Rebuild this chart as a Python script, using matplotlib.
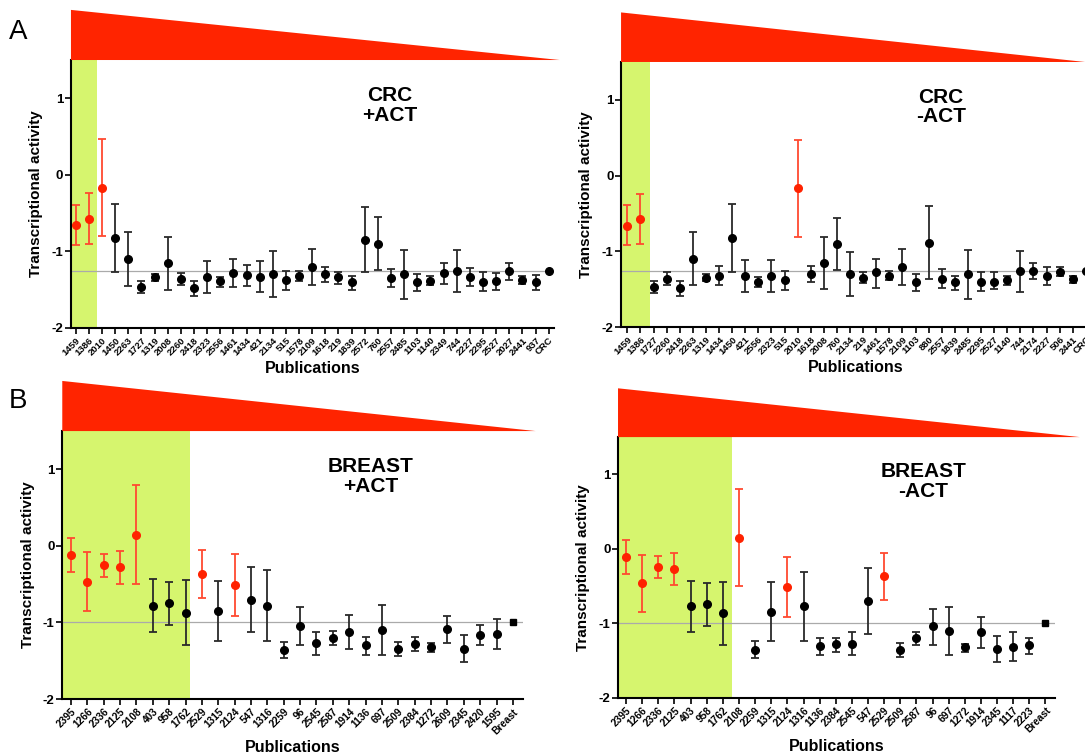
import numpy as np
import matplotlib
matplotlib.use("Agg")
import matplotlib.pyplot as plt
from matplotlib.patches import Polygon

plt.rcParams['font.family'] = ['Liberation Sans', 'DejaVu Sans']

# ---- CRC +ACT ----
crc_pos_labels = ['1459', '1386', '2010', '1450', '2263', '1727', '1319', '2008', '2260', '2418',
                  '2323', '2556', '1461', '1434', '421', '2134', '515', '1578', '2109', '1618',
                  '219', '1839', '2572', '760', '2557', '2485', '1103', '1140', '2349', '744',
                  '2227', '2295', '2527', '2027', '2441', '937', 'CRC']
crc_pos_mean = [-0.66, -0.58, -0.17, -0.83, -1.10, -1.47, -1.34, -1.15, -1.36, -1.48,
                -1.33, -1.39, -1.28, -1.31, -1.33, -1.30, -1.37, -1.32, -1.20, -1.30,
                -1.34, -1.40, -0.85, -0.90, -1.35, -1.30, -1.40, -1.38, -1.28, -1.26,
                -1.33, -1.40, -1.39, -1.26, -1.37, -1.40, -1.25]
crc_pos_high = [-0.39, -0.24, 0.47, -0.38, -0.75, -1.38, -1.30, -0.81, -1.28, -1.39,
                -1.12, -1.34, -1.10, -1.18, -1.12, -1.00, -1.25, -1.25, -0.97, -1.20,
                -1.27, -1.32, -0.42, -0.55, -1.23, -0.98, -1.29, -1.32, -1.15, -0.98,
                -1.21, -1.27, -1.28, -1.15, -1.32, -1.31, -1.25]
crc_pos_low = [-0.92, -0.90, -0.80, -1.27, -1.45, -1.54, -1.39, -1.50, -1.44, -1.58,
               -1.54, -1.46, -1.47, -1.45, -1.53, -1.60, -1.50, -1.38, -1.44, -1.40,
               -1.42, -1.50, -1.27, -1.24, -1.47, -1.62, -1.52, -1.44, -1.43, -1.53,
               -1.45, -1.52, -1.50, -1.37, -1.42, -1.50, -1.25]
crc_pos_red = ['1459', '1386', '2010']

# ---- CRC -ACT ----
crc_neg_labels = ['1459', '1386', '1727', '2260', '2418', '2263', '1319', '1434', '1450', '421',
                  '2556', '2323', '515', '2010', '1618', '2008', '760', '2134', '219', '1461',
                  '1578', '2109', '1103', '880', '2557', '1839', '2485', '2295', '2527', '1140',
                  '744', '2174', '2227', '506', '2441', 'CRC']
crc_neg_mean = [-0.66, -0.58, -1.47, -1.37, -1.49, -1.10, -1.35, -1.32, -0.83, -1.33,
                -1.40, -1.33, -1.38, -0.17, -1.30, -1.16, -0.90, -1.30, -1.35, -1.28,
                -1.32, -1.21, -1.41, -0.89, -1.36, -1.41, -1.30, -1.41, -1.40, -1.38,
                -1.26, -1.26, -1.33, -1.27, -1.37, -1.26]
crc_neg_high = [-0.39, -0.25, -1.39, -1.28, -1.39, -0.75, -1.30, -1.19, -0.38, -1.12,
                -1.34, -1.11, -1.26, 0.47, -1.20, -0.81, -0.56, -1.01, -1.28, -1.10,
                -1.26, -0.97, -1.30, -0.40, -1.23, -1.33, -0.98, -1.28, -1.28, -1.33,
                -0.99, -1.16, -1.21, -1.21, -1.33, -1.26]
crc_neg_low = [-0.92, -0.91, -1.55, -1.44, -1.59, -1.45, -1.39, -1.45, -1.27, -1.54,
               -1.47, -1.54, -1.51, -0.81, -1.41, -1.50, -1.25, -1.59, -1.42, -1.48,
               -1.38, -1.45, -1.53, -1.37, -1.48, -1.51, -1.63, -1.53, -1.50, -1.44,
               -1.54, -1.37, -1.45, -1.33, -1.42, -1.26]
crc_neg_red = ['1459', '1386', '2010']

# ---- BREAST +ACT ----
br_pos_labels = ['2395', '1266', '2336', '2125', '2108', '403', '958', '1762', '2529', '1315',
                 '2124', '547', '1316', '2259', '96', '2545', '2587', '1914', '1136', '697',
                 '2509', '2384', '1272', '2609', '2345', '2420', '1595', 'Breast']
br_pos_mean = [-0.12, -0.47, -0.25, -0.27, 0.14, -0.78, -0.75, -0.87, -0.37, -0.85,
               -0.51, -0.70, -0.78, -1.36, -1.04, -1.27, -1.20, -1.13, -1.30, -1.10,
               -1.35, -1.28, -1.32, -1.09, -1.35, -1.17, -1.15, -1.00]
br_pos_high = [0.10, -0.08, -0.10, -0.06, 0.79, -0.43, -0.47, -0.44, -0.05, -0.46,
               -0.11, -0.27, -0.32, -1.25, -0.80, -1.13, -1.11, -0.90, -1.19, -0.77,
               -1.26, -1.19, -1.27, -0.92, -1.17, -1.03, -0.96, -1.00]
br_pos_low = [-0.34, -0.85, -0.40, -0.50, -0.50, -1.13, -1.03, -1.29, -0.68, -1.24,
              -0.91, -1.13, -1.24, -1.47, -1.30, -1.43, -1.30, -1.34, -1.42, -1.43,
              -1.44, -1.37, -1.38, -1.27, -1.52, -1.30, -1.34, -1.00]
br_pos_red = ['2395', '1266', '2336', '2125', '2108', '2529', '2124']

# ---- BREAST -ACT ----
br_neg_labels = ['2395', '1266', '2336', '2125', '403', '958', '1762', '2108', '2259', '1315',
                 '2124', '1316', '1136', '2384', '2545', '547', '2529', '2509', '2587', '96',
                 '697', '1272', '1914', '2345', '1117', '2223', 'Breast']
br_neg_mean = [-0.11, -0.46, -0.24, -0.27, -0.77, -0.74, -0.86, 0.15, -1.36, -0.84,
               -0.51, -0.77, -1.30, -1.28, -1.28, -0.70, -0.36, -1.35, -1.20, -1.04,
               -1.10, -1.31, -1.12, -1.34, -1.31, -1.29, -1.00]
br_neg_high = [0.12, -0.08, -0.09, -0.05, -0.43, -0.46, -0.44, 0.80, -1.24, -0.45,
               -0.11, -0.31, -1.19, -1.19, -1.12, -0.26, -0.05, -1.26, -1.11, -0.80,
               -0.78, -1.27, -0.91, -1.17, -1.11, -1.20, -1.00]
br_neg_low = [-0.34, -0.85, -0.39, -0.49, -1.12, -1.03, -1.29, -0.50, -1.47, -1.24,
              -0.91, -1.24, -1.42, -1.38, -1.43, -1.14, -0.68, -1.45, -1.29, -1.29,
              -1.43, -1.38, -1.33, -1.52, -1.51, -1.41, -1.00]
br_neg_red = ['2395', '1266', '2336', '2125', '2108', '2124', '2529']

RED = '#ff2200'
RED_BAR = '#ff4a30'
GREEN = '#d6f56e'


def draw_panel(ax, labels, mean, low, high, red, green_end, xlim, title, title_xy, last_marker,
               tri_right, tick_fs):
    x = np.arange(len(labels))
    mean = np.array(mean)
    low = np.array(low)
    high = np.array(high)
    ax.axvspan(xlim[0], green_end, color=GREEN, lw=0, zorder=0)
    ax.axhline(mean[-1], color='#aaaaaa', lw=0.9, zorder=1)
    for i, lab in enumerate(labels):
        is_red = lab in red
        if i == len(labels) - 1:
            ax.plot(x[i], mean[i], marker=last_marker, color='black', ms=5.5 if last_marker == 'o' else 5,
                    zorder=3, clip_on=False)
            continue
        ax.errorbar(x[i], mean[i], yerr=[[mean[i] - low[i]], [high[i] - mean[i]]],
                    fmt='o', color=RED if is_red else 'black',
                    ecolor=RED_BAR if is_red else '#2a2a2a',
                    elinewidth=1.3, capsize=3, capthick=1.3, ms=5.5, zorder=3)
    ax.set_xlim(*xlim)
    ax.set_ylim(-2, 1.5)
    ax.set_yticks([-2, -1, 0, 1])
    ax.set_yticklabels(['-2', '-1', '0', '1'], fontsize=9.5, fontweight='bold')
    ax.set_xticks(x)
    ax.set_xticklabels(labels, rotation=45, ha='right', rotation_mode='anchor',
                       fontsize=tick_fs, fontweight='bold')
    for s in ['top', 'right']:
        ax.spines[s].set_visible(False)
    for s in ['left', 'bottom']:
        ax.spines[s].set_linewidth(1.5)
    ax.tick_params(axis='both', length=4, width=1.2, pad=1.5)
    ax.set_ylabel('Transcriptional activity', fontsize=11, fontweight='bold', labelpad=6)
    ax.set_xlabel('Publications', fontsize=11.5, fontweight='bold', labelpad=3)
    ax.text(title_xy[0], title_xy[1], title, transform=ax.transAxes, ha='center', va='center',
            fontsize=15, fontweight='bold', linespacing=1.05)
    tri = Polygon([[0, 1], [0, 1.187], [tri_right, 1]], closed=True, transform=ax.transAxes,
                  facecolor='#ff2400', edgecolor='none', clip_on=False, zorder=5)
    ax.add_patch(tri)


fig = plt.figure(figsize=(10.85, 7.54), dpi=100)

ax1 = fig.add_axes([0.0654, 0.565, 0.4452, 0.3554])
draw_panel(ax1, crc_pos_labels, crc_pos_mean, crc_pos_low, crc_pos_high, crc_pos_red,
           1.65, (-0.36, 36.4), 'CRC\n+ACT', (0.66, 0.83), 'o', 1.012, 6.8)

ax2 = fig.add_axes([0.5724, 0.5663, 0.4332, 0.3515])
draw_panel(ax2, crc_neg_labels, crc_neg_mean, crc_neg_low, crc_neg_high, crc_neg_red,
           1.73, (-0.48, 35.4), 'CRC\n-ACT', (0.68, 0.83), 'o', 0.987, 6.8)

ax3 = fig.add_axes([0.0574, 0.0729, 0.4244, 0.3554])
draw_panel(ax3, br_pos_labels, br_pos_mean, br_pos_low, br_pos_high, br_pos_red,
           7.3, (-0.53, 27.6), 'BREAST\n+ACT', (0.67, 0.83), 's', 1.028, 7.3)

ax4 = fig.add_axes([0.5696, 0.0743, 0.4023, 0.346])
draw_panel(ax4, br_neg_labels, br_neg_mean, br_neg_low, br_neg_high, br_neg_red,
           6.57, (-0.5, 26.56), 'BREAST\n-ACT', (0.70, 0.83), 's', 1.058, 7.3)

fig.text(0.008, 0.958, 'A', fontsize=20, va='center', ha='left')
fig.text(0.008, 0.468, 'B', fontsize=20, va='center', ha='left')

fig.savefig('out.png', dpi=100)
